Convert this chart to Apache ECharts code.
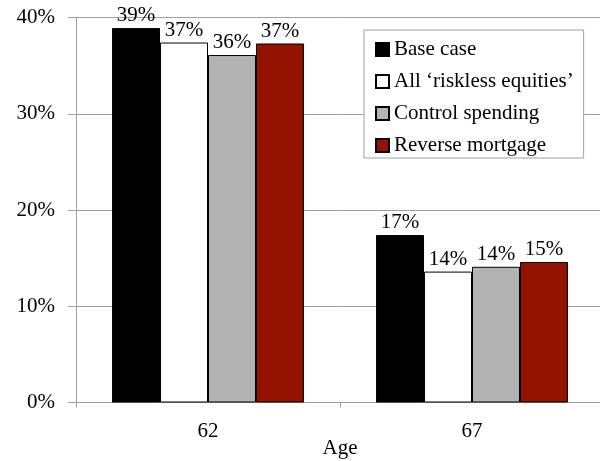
<!DOCTYPE html>
<html>
<head>
<meta charset="utf-8">
<script src="https://cdn.jsdelivr.net/npm/echarts@6/dist/echarts.min.js"></script>
<style>
  html, body { margin: 0; padding: 0; background: #fff; }
  #chart { width: 600px; height: 461px; }
</style>
</head>
<body>
<div id="chart"></div>
<script>
// Share of households (%) by age at retirement, per scenario
const ages = ['62', '67'];
const seriesNames = ['Base case', 'All \u2018riskless equities\u2019', 'Control spending', 'Reverse mortgage'];
const baseCase = [38.9, 17.4];
const risklessEquities = [37.4, 13.6];
const controlSpending = [36.1, 14.1];
const reverseMortgage = [37.3, 14.6];
const yTicks = [0, 10, 20, 30, 40];

const colors = ['#000000', '#ffffff', '#b3b3b3', '#941200'];
const values = [baseCase, risklessEquities, controlSpending, reverseMortgage];
const font = 'Liberation Serif';

const chart = echarts.init(document.getElementById('chart'));
chart.setOption({
  animation: false,
  textStyle: { fontFamily: font, color: '#000' },
  grid: { left: 76, top: 17.5, width: 528, height: 385, outerBoundsMode: 'none', containLabel: false },
  legend: {
    orient: 'vertical',
    left: 364,
    top: 30,
    padding: [9, 10, 2, 11],
    itemGap: 11,
    itemWidth: 13,
    itemHeight: 13,
    icon: 'rect',
    backgroundColor: '#fff',
    borderColor: '#a0a0a0',
    borderWidth: 1,
    borderRadius: 0,
    textStyle: { fontFamily: font, fontSize: 21, color: '#000', padding: [0, 0, 0, 0] },
    data: seriesNames
  },
  xAxis: {
    type: 'category',
    data: ages,
    name: 'Age',
    nameLocation: 'middle',
    nameGap: 35,
    nameMoveOverlap: false,
    nameTextStyle: { fontFamily: font, fontSize: 21, color: '#000', verticalAlign: 'top' },
    axisLine: { lineStyle: { color: '#a0a0a0', width: 1 } },
    axisTick: { show: true, length: 5, interval: 0, lineStyle: { color: '#a0a0a0' } },
    axisLabel: { fontFamily: font, fontSize: 21, color: '#000', margin: 18 }
  },
  yAxis: {
    type: 'value',
    min: yTicks[0],
    max: yTicks[yTicks.length - 1],
    interval: yTicks[1] - yTicks[0],
    axisLine: { show: true, lineStyle: { color: '#a0a0a0', width: 1 } },
    axisTick: { show: true, length: 8, lineStyle: { color: '#a0a0a0' } },
    splitLine: { show: true, lineStyle: { color: '#a0a0a0', width: 1 } },
    axisLabel: { fontFamily: font, fontSize: 21, color: '#000', margin: 21, formatter: '{value}%' }
  },
  series: seriesNames.map((name, i) => ({
    name: name,
    type: 'bar',
    data: values[i],
    barGap: '0%',
    barCategoryGap: '27.3%',
    itemStyle: { color: colors[i], borderColor: '#000', borderWidth: 1 },
    label: {
      show: true,
      position: 'top',
      distance: 2,
      fontFamily: font,
      fontSize: 21,
      color: '#000',
      formatter: p => Math.round(p.value) + '%'
    }
  }))
});
</script>
</body>
</html>
